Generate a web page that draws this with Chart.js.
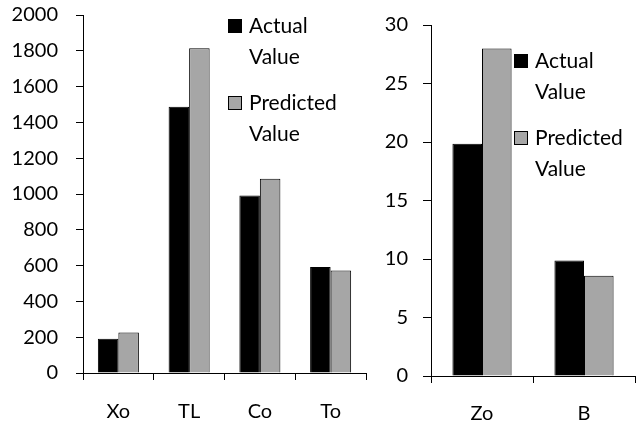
<!DOCTYPE html>
<html>
<head>
<meta charset="utf-8">
<script src="https://cdn.jsdelivr.net/npm/chart.js@4/dist/chart.umd.min.js"></script>
<style>
  html, body { margin: 0; padding: 0; background: #fff; }
  #wrap { position: relative; width: 636px; height: 427px; overflow: hidden; }
  .panel { position: absolute; top: 0; height: 427px; }
  #leftPanel { left: 0; width: 380px; }
  #rightPanel { left: 380px; width: 256px; }
</style>
</head>
<body>
<div id="wrap">
  <div class="panel" id="leftPanel"><canvas id="leftChart"></canvas></div>
  <div class="panel" id="rightPanel"><canvas id="rightChart"></canvas></div>
</div>
<script>
// Left panel: large-valued groups
const categoriesLeft = ['Xo', 'TL', 'Co', 'To'];
const actualLeft = [191, 1488, 991, 592];
const predictedLeft = [226, 1814, 1085, 573];
const yMinLeft = 0, yMaxLeft = 2000, yStepLeft = 200;

// Right panel: small-valued groups
const categoriesRight = ['Zo', 'B'];
const actualRight = [19.86, 9.87];
const predictedRight = [27.99, 8.56];
const yMinRight = 0, yMaxRight = 30, yStepRight = 5;

// Legend entries (two-line labels)
const seriesNames = [['Actual', 'Value'], ['Predicted', 'Value']];
const seriesColors = ['#000000', '#a6a6a6'];

const FONT = 'Lato, "Open Sans", sans-serif';
Chart.defaults.font.family = FONT;
Chart.defaults.color = '#000';

// Draws a two-line legend inside the plot area
function legendPlugin(offsetX, offsetY) {
  return {
    id: 'boxLegend',
    afterDraw(chart) {
      const ctx = chart.ctx;
      const area = chart.chartArea;
      const bx = area.left + offsetX;
      let baseline = area.top + offsetY;
      ctx.save();
      ctx.font = '21px ' + FONT;
      ctx.textBaseline = 'alphabetic';
      ctx.textAlign = 'left';
      chart.data.datasets.forEach((ds, i) => {
        ctx.fillStyle = ds.backgroundColor;
        ctx.fillRect(bx, baseline - 14, 14, 14);
        ctx.strokeStyle = '#000';
        ctx.lineWidth = 1;
        ctx.strokeRect(bx + 0.5, baseline - 13.5, 13, 13);
        ctx.fillStyle = '#000';
        seriesNames[i].forEach((line, j) => {
          ctx.fillText(line, bx + 21, baseline + j * 31);
        });
        baseline += 77;
      });
      ctx.restore();
    }
  };
}

function makeChart(canvasId, labels, actual, predicted, yMin, yMax, yStep, layout, legendOffset) {
  return new Chart(document.getElementById(canvasId), {
    type: 'bar',
    data: {
      labels: labels,
      datasets: [
        { label: seriesNames[0].join(' '), data: actual, backgroundColor: seriesColors[0],
          borderColor: '#000', borderWidth: 1 },
        { label: seriesNames[1].join(' '), data: predicted, backgroundColor: seriesColors[1],
          borderColor: '#000', borderWidth: 1 }
      ]
    },
    options: {
      responsive: true,
      maintainAspectRatio: false,
      animation: false,
      layout: { padding: { top: layout.top, right: layout.right, left: 0, bottom: 0 } },
      datasets: { bar: { categoryPercentage: 0.58, barPercentage: 1.0 } },
      plugins: { legend: { display: false }, tooltip: { enabled: false } },
      scales: {
        x: {
          grid: { drawOnChartArea: false, drawTicks: true, tickLength: 7, color: '#000', lineWidth: 1 },
          border: { display: true, color: '#000', width: 1 },
          ticks: { font: { size: 20 }, padding: layout.xPad, color: '#000', maxRotation: 0 },
          afterFit: s => { s.height = layout.xHeight; }
        },
        y: {
          min: yMin, max: yMax,
          grid: { drawOnChartArea: false, drawTicks: true, tickLength: layout.yTick, color: '#000', lineWidth: 1 },
          border: { display: true, color: '#000', width: 1 },
          ticks: { stepSize: yStep, font: { size: 20 }, padding: layout.yPad, color: '#000',
                   callback: v => String(v) },
          afterFit: s => { s.width = layout.yWidth; s.paddingTop = 0; s.paddingBottom = 0; }
        }
      }
    },
    plugins: [legendPlugin(legendOffset[0], legendOffset[1])]
  });
}

makeChart('leftChart', categoriesLeft, actualLeft, predictedLeft, yMinLeft, yMaxLeft, yStepLeft,
  { top: 15, right: 14, yWidth: 83, xHeight: 54, yTick: 7, yPad: 18, xPad: 20 }, [145, 18]);

makeChart('rightChart', categoriesRight, actualRight, predictedRight, yMinRight, yMaxRight, yStepRight,
  { top: 25, right: 1, yWidth: 51, xHeight: 51, yTick: 8, yPad: 15, xPad: 19 }, [83, 43]);
</script>
</body>
</html>
